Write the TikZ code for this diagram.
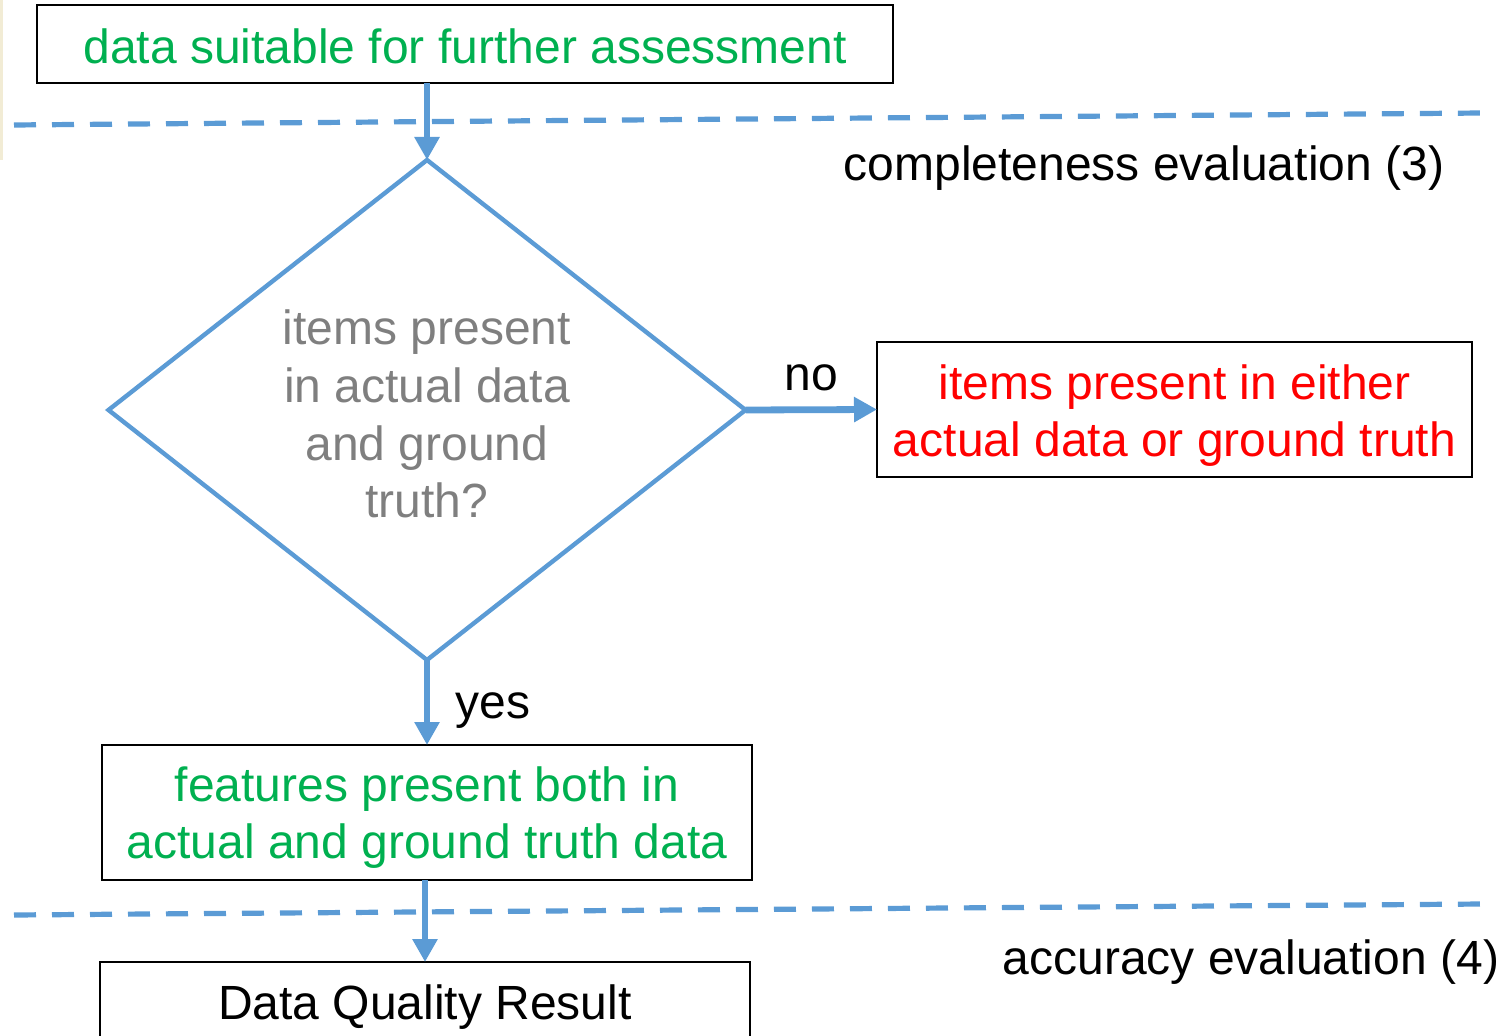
\documentclass[tikz,border=0pt]{standalone}
\usepackage{fontspec}
\setmainfont{Liberation Sans}
\usetikzlibrary{arrows.meta,shapes.geometric}
\definecolor{flowblue}{HTML}{5B9BD5}
\definecolor{okgreen}{HTML}{00B050}
\definecolor{alertred}{HTML}{FF0000}
\definecolor{softgrey}{HTML}{7F7F7F}
\definecolor{edgebeige}{HTML}{F2ECD5}
% invisible strut that adds room above a first line, lowering the text block
\newcommand\toproom[1]{\rule{0pt}{#1}}
\tikzset{
  txt/.style={font=\fontsize{24}{28.8}\selectfont, align=center, inner sep=0pt},
  box/.style={txt, draw=black, line width=1.1pt, outer sep=0pt},
  decision/.style={txt, diamond, draw=flowblue, line width=2.2pt,
    minimum width=318.5pt, minimum height=250pt, aspect=1.274, outer sep=0pt},
  flow/.style={draw=flowblue, line width=3.4pt,
    -{Triangle[width=12pt,length=11.5pt]}},
  phase/.style={draw=flowblue, line width=2.6pt, dash pattern=on 11pt off 8pt},
  lbl/.style={txt, text=black}
}
\begin{document}
\begin{tikzpicture}[x=0.5pt, y=-0.5pt]
  \useasboundingbox (0,0) rectangle (1503,1036);
  \clip (0,0) rectangle (1503,1036);
  \fill[edgebeige] (0,0) rectangle (3,160);

  % phase separators
  \coordinate (s1a) at (14,125);
  \coordinate (s1b) at (1483,113);
  \coordinate (s2a) at (14,915);
  \coordinate (s2b) at (1483,904);
  \draw[phase] (s1a) -- (s1b);
  \draw[phase] (s2a) -- (s2b);

  % boxes
  \node[box, text=okgreen, minimum width=428pt, minimum height=39pt]
    (input) at (465,44) {\toproom{19.5pt}data suitable for further assessment};
  \node[decision, text=softgrey] (check) at (427,410)
    {\toproom{21.5pt}items present\\in actual data\\and ground\\truth?};
  \node[box, text=alertred, minimum width=297.5pt, minimum height=67.5pt]
    (either) at (1174.5,409.5)
    {\toproom{23.5pt}items present in either\\actual data or ground truth};
  \node[box, text=okgreen, minimum width=325pt, minimum height=67.5pt]
    (both) at (427,812.5)
    {\toproom{22.5pt}features present both in\\actual and ground truth data};
  \node[box, text=black, minimum width=325pt, minimum height=40pt]
    (result) at (425,1002) {\toproom{22.5pt}Data Quality Result};

  % phase titles
  \node[lbl] (phase3) at (1144,168) {completeness evaluation (3)};
  \node[lbl] (phase4) at (1251,962) {accuracy evaluation (4)};

  % connectors
  \draw[flow] (input.south -| check.north) -- (check.north);
  \draw[flow] (check.east) -- (either.west);
  \draw[flow] (check.south) -- (both.north -| check.south);
  \draw[flow] (both.south -| result.north) -- (result.north);

  % branch labels
  \node[lbl] (nolbl) at (811,378) {no};
  \node[lbl] (yeslbl) at (493,711) {yes};
\end{tikzpicture}
\end{document}
